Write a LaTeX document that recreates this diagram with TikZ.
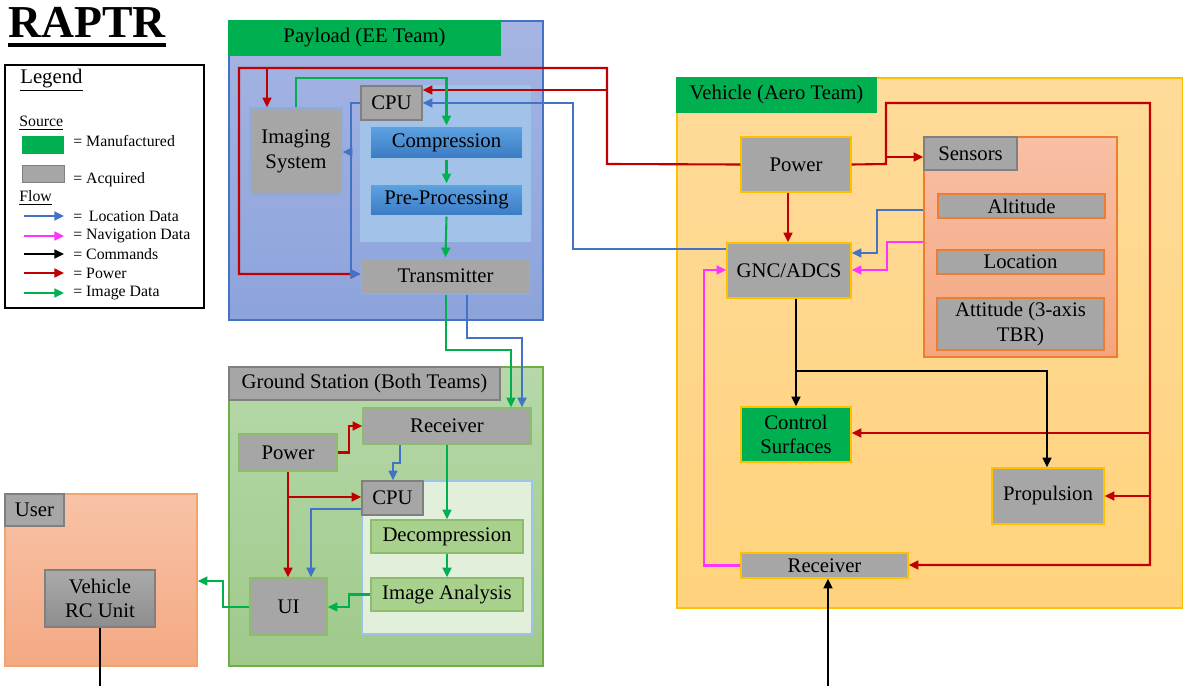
\documentclass[tikz,border=0pt]{standalone}
\usepackage{fontspec}
\setmainfont{Liberation Serif}
\usepackage{xcolor}
\usepackage{tikz}
\usetikzlibrary{arrows.meta}
\definecolor{pwrred}{HTML}{C00000}
\definecolor{locblue}{HTML}{4472C4}
\definecolor{navpink}{HTML}{FF33FF}
\definecolor{imggreen}{HTML}{00B050}
\definecolor{mfgreen}{HTML}{00B050}
\definecolor{acqgray}{HTML}{A6A6A6}
\definecolor{payedge}{HTML}{4472C4}
\definecolor{paytop}{HTML}{A5B5E3}
\definecolor{paybot}{HTML}{8CA3DB}
\definecolor{paycpufill}{HTML}{A3C2EA}
\definecolor{cpuedge}{HTML}{9DC3E6}
\definecolor{comptop}{HTML}{5FA2E2}
\definecolor{compbot}{HTML}{3A7BC4}
\definecolor{vehedge}{HTML}{FFC000}
\definecolor{vehtop}{HTML}{FFDB9A}
\definecolor{vehbot}{HTML}{FFD37D}
\definecolor{sensedge}{HTML}{ED7D31}
\definecolor{senstop}{HTML}{F8C0A5}
\definecolor{sensbot}{HTML}{F4A57F}
\definecolor{gndedge}{HTML}{70AD47}
\definecolor{gndtop}{HTML}{B6D8A9}
\definecolor{gndbot}{HTML}{9FCA8B}
\definecolor{gcpufill}{HTML}{E2EFDA}
\definecolor{decfill}{HTML}{A9D18E}
\definecolor{usertop}{HTML}{F8C2A6}
\definecolor{userbot}{HTML}{F4A983}
\newcommand{\lblfont}{\fontsize{11.8}{14}\selectfont}
\newcommand{\legfont}{\fontsize{9}{10}\selectfont}

\begin{document}
\begin{tikzpicture}[x=0.02cm, y=-0.02cm,
    grp/.style={draw=#1, line width=0.8pt, inner sep=0pt},
    blk/.style={draw=#1, fill=acqgray, line width=0.8pt, inner sep=0pt, align=center, font=\lblfont},
    blk/.default=gray,
    flow/.style={line width=1.2pt, -{Triangle[length=5.5pt,width=5pt]}},
    pwrf/.style={flow, draw=pwrred},
    locf/.style={flow, draw=locblue},
    navf/.style={flow, draw=navpink},
    cmdf/.style={flow, draw=black},
    imgf/.style={flow, draw=imggreen}]
    \useasboundingbox (0,0) rectangle (1183,686);

    % ========== Title and legend ==========
    \node[anchor=base west, inner sep=0pt, font=\fontsize{26}{28}\selectfont\bfseries] (title) at (8,38) {RAPTR};
    \draw[line width=2.2pt] (title.base west |- 0,45) -- (title.base east |- 0,45);

    \node[draw, line width=0.7pt, minimum width=3.98cm, minimum height=4.86cm, inner sep=0pt] (legbox) at (104.5,186.5) {};
    \node[anchor=west, inner sep=0pt, font=\lblfont] (legtitle) at (20,80) {\underline{Legend}};
    \node[anchor=west, inner sep=0pt, font=\legfont] (legsrc) at (19,123) {\underline{Source}};
    \fill[mfgreen] (22,136) rectangle (64,154);
    \draw[gray, fill=acqgray] (22,165) rectangle (64,182);
    \node[anchor=west, inner sep=0pt, font=\legfont] (legmf) at (73,141) {= Manufactured};
    \node[anchor=west, inner sep=0pt, font=\legfont] (legacq) at (73,180) {= Acquired};
    \node[anchor=west, inner sep=0pt, font=\legfont] (legflow) at (19,198) {\underline{Flow}};
    \draw[locf] (24,216) -- (64,216);
    \draw[navf] (24,236) -- (64,236);
    \draw[cmdf] (24,254) -- (64,254);
    \draw[pwrf] (24,273) -- (64,273);
    \draw[imgf] (24,293) -- (64,293);
    \node[anchor=west, inner sep=0pt, font=\legfont] (legloc) at (73,216) {=~\,Location Data};
    \node[anchor=west, inner sep=0pt, font=\legfont] (legnav) at (73,236) {= Navigation Data};
    \node[anchor=west, inner sep=0pt, font=\legfont] (legcmd) at (73,254) {= Commands};
    \node[anchor=west, inner sep=0pt, font=\legfont] (legpwr) at (73,273) {= Power};
    \node[anchor=west, inner sep=0pt, font=\legfont] (legimg) at (73,293) {= Image Data};

    % ========== Payload (EE Team) ==========
    \node[grp=payedge, top color=paytop, bottom color=paybot, minimum width=6.28cm, minimum height=5.98cm] (paybox) at (386,170.5) {};
    \node[blk=mfgreen, fill=mfgreen, minimum width=5.42cm, minimum height=0.68cm] (payhdr) at (364.5,38) {Payload (EE Team)};
    \node[grp=cpuedge, fill=paycpufill, minimum width=3.38cm, minimum height=3.1cm] (paycpubox) at (445.5,163.5) {};
    \node[blk=gray, minimum width=1.22cm, minimum height=0.68cm] (paycpu) at (391.5,103) {CPU};
    \node[blk=payedge!60, minimum width=1.84cm, minimum height=1.74cm] (imaging) at (296,151.5) {Imaging\\System};
    \node[blk=cpuedge, top color=comptop, bottom color=compbot, minimum width=3.06cm, minimum height=0.66cm] (compress) at (446.5,142.5) {Compression};
    \node[blk=cpuedge, top color=comptop, bottom color=compbot, minimum width=3.06cm, minimum height=0.64cm] (preproc) at (446.5,200) {Pre-Processing};
    \node[blk=payedge!60, minimum width=3.38cm, minimum height=0.72cm] (transmit) at (445.5,276) {Transmitter};

    % ========== Vehicle (Aero Team) ==========
    \node[grp=vehedge, top color=vehtop, bottom color=vehbot, minimum width=10.12cm, minimum height=10.6cm] (vehbox) at (930,343) {};
    \node[blk=mfgreen, fill=mfgreen, minimum width=3.98cm, minimum height=0.68cm] (vehhdr) at (776.5,95) {Vehicle (Aero Team)};
    \node[grp=sensedge, top color=senstop, bottom color=sensbot, minimum width=3.86cm, minimum height=4.4cm] (sensbox) at (1020.5,247) {};
    \node[blk=gray, minimum width=1.86cm, minimum height=0.66cm] (sens) at (970.5,153.5) {Sensors};
    \node[blk=sensedge, minimum width=3.34cm, minimum height=0.48cm] (alt) at (1021.5,206) {Altitude};
    \node[blk=sensedge, minimum width=3.34cm, minimum height=0.48cm] (loc) at (1020.5,262) {Location};
    \node[blk=sensedge, minimum width=3.34cm, minimum height=1.04cm] (att) at (1020.5,324) {Attitude (3-axis\\TBR)};
    \node[blk=vehedge, minimum width=2.2cm, minimum height=1.1cm] (vpower) at (796,164.5) {Power};
    \node[blk=vehedge, minimum width=2.48cm, minimum height=1.1cm] (gnc) at (789,270.5) {GNC/ADCS};
    \node[blk=vehedge, fill=mfgreen, minimum width=2.2cm, minimum height=1.1cm] (ctrl) at (796,434.5) {Control\\Surfaces};
    \node[blk=vehedge, minimum width=2.24cm, minimum height=1.12cm] (prop) at (1048,496) {Propulsion};
    \node[blk=vehedge, minimum width=3.34cm, minimum height=0.5cm] (vrecv) at (824.5,565.5) {Receiver};

    % ========== Ground Station (Both Teams) ==========
    \node[grp=gndedge, top color=gndtop, bottom color=gndbot, minimum width=6.28cm, minimum height=5.98cm] (gndbox) at (386,516.5) {};
    \node[blk=gray, minimum width=5.42cm, minimum height=0.66cm] (gndhdr) at (364.5,383.5) {Ground Station (Both Teams)};
    \node[grp=cpuedge, fill=gcpufill, minimum width=3.4cm, minimum height=3.06cm] (gcpubox) at (447,557.5) {};
    \node[blk=gray, minimum width=1.22cm, minimum height=0.68cm] (gcpu) at (392.5,498) {CPU};
    \node[blk=gndedge!80, minimum width=3.36cm, minimum height=0.72cm] (grecv) at (447,426) {Receiver};
    \node[blk=gndedge!80, minimum width=1.96cm, minimum height=0.74cm] (gpower) at (288,452.5) {Power};
    \node[blk=gndedge!80, fill=decfill, minimum width=3.04cm, minimum height=0.66cm] (decomp) at (447,536.5) {Decompression};
    \node[blk=gndedge!80, fill=decfill, minimum width=3.04cm, minimum height=0.66cm] (imgan) at (447,594.5) {Image Analysis};
    \node[blk=gndedge!80, minimum width=1.54cm, minimum height=1.14cm] (ui) at (288.5,606.5) {UI};

    % ========== User ==========
    \node[grp=sensedge!70, top color=usertop, bottom color=userbot, minimum width=3.84cm, minimum height=3.44cm] (userbox) at (101,580) {};
    \node[blk=gray, minimum width=1.18cm, minimum height=0.64cm] (userhdr) at (34.5,510) {User};
    \node[blk=gray, top color=acqgray!95!white, bottom color=acqgray!85!black, minimum width=2.2cm, minimum height=1.14cm] (rcunit) at (100,598.5) {Vehicle\\RC Unit};

    % ========== Payload flows ==========
    % Power from the vehicle
    \draw[pwrf] (vpower.west) -- (607,164) -- (607,68) -- (239,68) -- (239,274) -- (transmit.west |- 0,274);
    \draw[pwrf] (267,68) -- (imaging.north -| 267,0);
    \draw[pwrf] (607,90) -- (paycpu.east |- 0,90);
    % Location data
    \draw[locf] (gnc.west |- 0,249) -- (573,249) -- (573,103) -- (paycpu.east |- 0,103);
    \draw[locf] (paycpu.west |- 0,103) -- (351,103) -- (351,274) -- (transmit.west |- 0,274);
    \draw[locf] (351,152) -- (imaging.east |- 0,152);
    % Image data
    \draw[imgf] (imaging.north) -- (296,78) -- (446.5,78) -- (compress.north);
    \draw[imgf] (compress.south) -- (preproc.north);
    \draw[imgf] (preproc.south) -- (transmit.north);
    % Downlink to the ground station
    \draw[imgf] (transmit.south -| 446,0) -- (446,350) -- (511,350) -- (grecv.north -| 511,0);
    \draw[locf] (transmit.south -| 467,0) -- (467,338) -- (522,338) -- (grecv.north -| 522,0);

    % ========== Vehicle flows ==========
    \draw[pwrf] (vpower.south -| 788,0) -- (gnc.north -| 788,0);
    \draw[pwrf] (vpower.east) -- (886,164) -- (886,103) -- (1150,103) -- (1150,565) -- (vrecv.east |- 0,565);
    \draw[pwrf] (886,157) -- (sens.west |- 0,157);
    \draw[pwrf] (1150,433) -- (ctrl.east |- 0,433);
    \draw[pwrf] (1150,496) -- (prop.east);
    \draw[locf] (sensbox.west |- 0,210) -- (877,210) -- (877,253) -- (gnc.east |- 0,253);
    \draw[navf] (sensbox.west |- 0,242) -- (887,242) -- (887,270) -- (gnc.east |- 0,270);
    \draw[navf] (vrecv.west) -- (704,565.5) -- (704,270) -- (gnc.west |- 0,270);
    % Commands
    \draw[cmdf] (gnc.south -| ctrl.north) -- (ctrl.north);
    \draw[cmdf] (796,371) -- (1047,371) -- (prop.north -| 1047,0);
    \coordinate (rcin) at (828,686);
    \draw[cmdf] (rcin) -- (vrecv.south -| rcin);

    % ========== Ground station flows ==========
    \draw[pwrf] (gpower.east) -- (349,452.5) -- (349,426) -- (grecv.west);
    \draw[pwrf] (gpower.south) -- (ui.north -| gpower.south);
    \draw[pwrf] (288,497) -- (gcpu.west |- 0,497);
    \draw[locf] (grecv.south -| 400,0) -- (400,463) -- (393,463) -- (gcpu.north -| 393,0);
    \draw[locf] (gcpu.west |- 0,509) -- (311,509) -- (ui.north -| 311,0);
    \draw[imgf] (grecv.south) -- (decomp.north);
    \draw[imgf] (decomp.south) -- (imgan.north);
    \draw[imgf] (imgan.west) -- (349,594.5) -- (349,607) -- (ui.east |- 0,607);
    \draw[imgf] (ui.west |- 0,607) -- (223,607) -- (223,581) -- (userbox.east |- 0,581);

    % ========== User flows ==========
    \coordinate (rcout) at (100,686);
    \draw[line width=1.2pt] (rcunit.south) -- (rcout);
\end{tikzpicture}
\end{document}
